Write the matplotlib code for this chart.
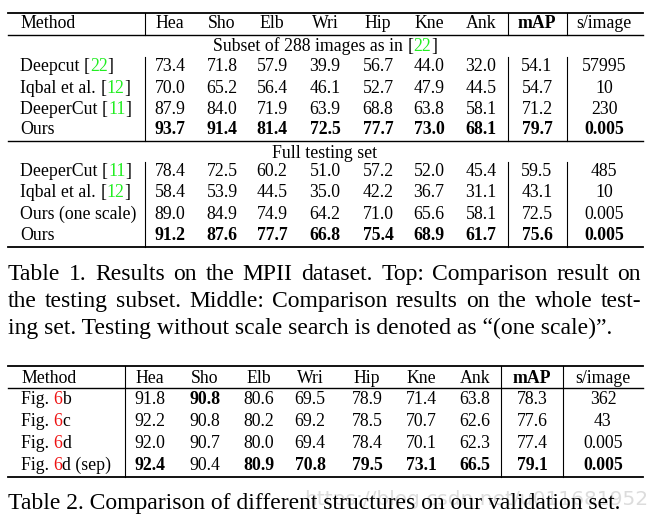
import matplotlib
matplotlib.use("Agg")
import matplotlib.pyplot as plt
from matplotlib.lines import Line2D

W, H = 658, 519
FONT = "Liberation Serif"
GREEN = "#22ee22"
RED = "#ee1111"

# ---- data ----
cols = ["Hea", "Sho", "Elb", "Wri", "Hip", "Kne", "Ank", "mAP", "s/image"]

t1_sub_methods = [[("Deepcut ", "k"), ("[", "k"), ("22", GREEN), ("]", "k")],
                  [("Iqbal et al. ", "k"), ("[", "k"), ("12", GREEN), ("]", "k")],
                  [("DeeperCut ", "k"), ("[", "k"), ("11", GREEN), ("]", "k")],
                  [("Ours", "k")]]
t1_sub_vals = [["73.4", "71.8", "57.9", "39.9", "56.7", "44.0", "32.0", "54.1", "57995"],
               ["70.0", "65.2", "56.4", "46.1", "52.7", "47.9", "44.5", "54.7", "10"],
               ["87.9", "84.0", "71.9", "63.9", "68.8", "63.8", "58.1", "71.2", "230"],
               ["93.7", "91.4", "81.4", "72.5", "77.7", "73.0", "68.1", "79.7", "0.005"]]
t1_sub_bold = [3]

t1_full_methods = [[("DeeperCut ", "k"), ("[", "k"), ("11", GREEN), ("]", "k")],
                   [("Iqbal et al. ", "k"), ("[", "k"), ("12", GREEN), ("]", "k")],
                   [("Ours (one scale)", "k")],
                   [("Ours", "k")]]
t1_full_vals = [["78.4", "72.5", "60.2", "51.0", "57.2", "52.0", "45.4", "59.5", "485"],
                ["58.4", "53.9", "44.5", "35.0", "42.2", "36.7", "31.1", "43.1", "10"],
                ["89.0", "84.9", "74.9", "64.2", "71.0", "65.6", "58.1", "72.5", "0.005"],
                ["91.2", "87.6", "77.7", "66.8", "75.4", "68.9", "61.7", "75.6", "0.005"]]
t1_full_bold = [3]

t2_methods = [[("Fig. ", "k"), ("6", RED), ("b", "k")],
              [("Fig. ", "k"), ("6", RED), ("c", "k")],
              [("Fig. ", "k"), ("6", RED), ("d", "k")],
              [("Fig. ", "k"), ("6", RED), ("d (sep)", "k")]]
t2_vals = [["91.8", "90.8", "80.6", "69.5", "78.9", "71.4", "63.8", "78.3", "362"],
           ["92.2", "90.8", "80.2", "69.2", "78.5", "70.7", "62.6", "77.6", "43"],
           ["92.0", "90.7", "80.0", "69.4", "78.4", "70.1", "62.3", "77.4", "0.005"],
           ["92.4", "90.4", "80.9", "70.8", "79.5", "73.1", "66.5", "79.1", "0.005"]]
# (row, col) cells printed in bold
t2_bold = [(0, 1), (3, 0), (3, 2), (3, 3), (3, 4), (3, 5), (3, 6), (3, 7), (3, 8)]

cap1 = ["Table 1. Results on the MPII dataset.  Top: Comparison result on",
        "the testing subset.  Middle: Comparison results on the whole test-",
        "ing set. Testing without scale search is denoted as \u201c(one scale)\u201d."]
cap2 = "Table 2. Comparison of different structures on our validation set."

TS = 12.8   # table font size
CS = 17.0   # caption font size

# ---- drawing helpers (pixel coords, y from top) ----
fig = plt.figure(figsize=(W / 100, H / 100), dpi=100)
fig.patch.set_facecolor("white")
rend = fig.canvas.get_renderer()


def fx(x):
    return x / W


def fy(y):
    return 1 - y / H


def hline(y, x0=8, x1=643, lw=1.3):
    fig.add_artist(Line2D([fx(x0), fx(x1)], [fy(y), fy(y)], color="k", lw=lw))


def vline(x, y0, y1, lw=0.8):
    fig.add_artist(Line2D([fx(x), fx(x)], [fy(y0), fy(y1)], color="k", lw=lw))


def width(s, size, weight="normal"):
    t = fig.text(0, 0, s, fontsize=size, family=FONT, weight=weight)
    w = t.get_window_extent(rend).width
    t.remove()
    return w


def put(segs, x, y, ha="left", size=TS, weight="normal"):
    # segs: list of (text, colour); y is the baseline
    ws = [width(s, size, weight) for s, _ in segs]
    tot = sum(ws)
    if ha == "center":
        x = x - tot / 2
    for (s, c), w in zip(segs, ws):
        fig.text(fx(x), fy(y), s, fontsize=size, family=FONT, weight=weight,
                 color=c, ha="left", va="baseline")
        x += w


def justify(line, y, x0=8, x1=641, size=CS):
    words = line.split()
    ws = [width(w, size) for w in words]
    gap = (x1 - x0 - sum(ws)) / (len(words) - 1)
    x = x0
    for w, wd in zip(words, ws):
        fig.text(fx(x), fy(y), w, fontsize=size, family=FONT, ha="left", va="baseline")
        x += wd + gap


BASE = 6  # row centre -> baseline offset

# ---- Table 1 ----
t1_cx = [170, 222, 272, 325, 378, 429, 481, 537, 604]
hline(13)
hline(35, lw=1.0)
hline(141, lw=1.0)
hline(247)
for x in [145, 508, 567]:
    vline(x, 13, 35)
    vline(x, 57, 141)
    vline(x, 162, 247)

put([("Method", "k")], 20, 22 + BASE)
for c, x in zip(cols, t1_cx):
    put([(c, "k")], x, 22 + BASE, ha="center", weight="bold" if c == "mAP" else "normal")

put([("Subset of 288 images as in ", "k"), ("[", "k"), ("22", GREEN), ("]", "k")], 325, 45 + BASE, ha="center")
for i, y in enumerate([65, 87, 108, 128]):
    put(t1_sub_methods[i], 20, y + BASE)
    wt = "bold" if i in t1_sub_bold else "normal"
    for v, x in zip(t1_sub_vals[i], t1_cx):
        put([(v, "k")], x, y + BASE, ha="center", weight=wt)

put([("Full testing set", "k")], 325, 152 + BASE, ha="center")
for i, y in enumerate([170, 191, 213, 234]):
    put(t1_full_methods[i], 20, y + BASE)
    wt = "bold" if i in t1_full_bold else "normal"
    for v, x in zip(t1_full_vals[i], t1_cx):
        put([(v, "k")], x, y + BASE, ha="center", weight=wt)

# caption 1
justify(cap1[0], 280)
justify(cap1[1], 307)
fig.text(fx(8), fy(334), cap1[2], fontsize=CS, family=FONT, ha="left", va="baseline")

# ---- Table 2 ----
t2_cx = [150, 205, 259, 310, 367, 421, 475, 532, 603]
hline(366)
hline(388, lw=1.0)
hline(477)
for x in [125, 501, 563]:
    vline(x, 366, 477)

put([("Method", "k")], 21, 377 + BASE)
for c, x in zip(cols, t2_cx):
    put([(c, "k")], x, 377 + BASE, ha="center", weight="bold" if c == "mAP" else "normal")
for i, y in enumerate([398, 420, 442, 464]):
    put(t2_methods[i], 21, y + BASE)
    for j, (v, x) in enumerate(zip(t2_vals[i], t2_cx)):
        wt = "bold" if (i, j) in t2_bold else "normal"
        put([(v, "k")], x, y + BASE, ha="center", weight=wt)

fig.text(fx(648), fy(505), "https://blog.csdn.net/u011681952", fontsize=14.5,
         family="DejaVu Sans", color="#d4d4d4", alpha=0.8, ha="right", va="baseline")
fig.text(fx(8), fy(509), cap2, fontsize=CS, family=FONT, ha="left", va="baseline")

fig.savefig("out.png", dpi=100, facecolor="white")
